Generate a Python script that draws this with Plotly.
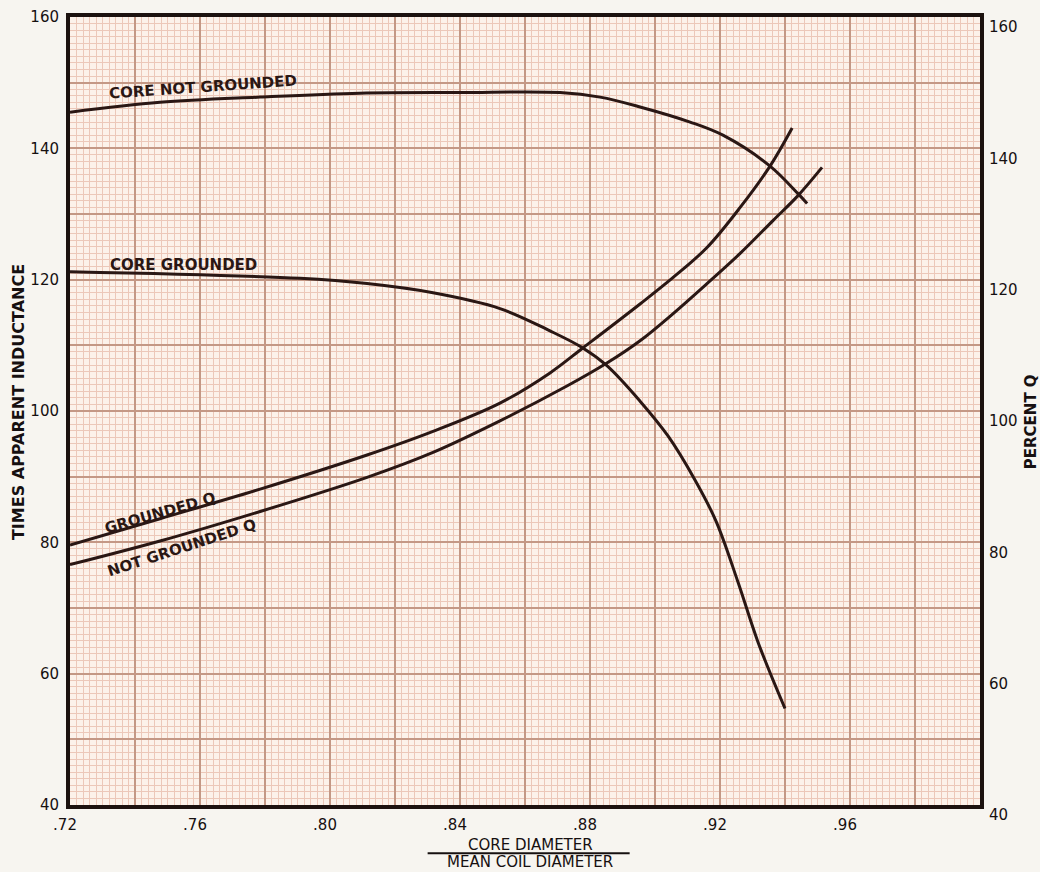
import plotly.graph_objects as go

# ---- data ----
ratio_core_not_grounded = [0.72, 0.7477, 0.7785, 0.8092, 0.84, 0.8708, 0.8831, 0.8954, 0.9108, 0.9209, 0.9354, 0.944, 0.9468]
ind_core_not_grounded = [145.5, 147.0, 147.8, 148.4, 148.5, 148.5, 147.8, 146.3, 144.0, 142.0, 137.3, 133.1, 131.6]

ratio_core_grounded = [0.72, 0.7908, 0.8114, 0.8317, 0.8523, 0.8677, 0.8778, 0.8852, 0.8954, 0.904, 0.9123, 0.9188, 0.9255, 0.9317, 0.94]
ind_core_grounded = [121.2, 120.2, 119.4, 118.0, 115.6, 112.2, 109.6, 106.9, 101.5, 96.2, 89.5, 83.2, 74.0, 64.8, 54.7]

ratio_q_grounded = [0.72, 0.7477, 0.7785, 0.8114, 0.8317, 0.8523, 0.8677, 0.8778, 0.8954, 0.9055, 0.916, 0.9262, 0.9354, 0.9422]
q_grounded = [79.6, 83.6, 88.1, 93.3, 96.9, 101.2, 105.8, 109.6, 116.3, 120.3, 124.9, 131.0, 137.3, 143.1]

ratio_q_not_grounded = [0.72, 0.7477, 0.7785, 0.8114, 0.8317, 0.8523, 0.8729, 0.8852, 0.8954, 0.9055, 0.916, 0.9262, 0.9363, 0.944, 0.9514]
q_not_grounded = [76.6, 80.2, 84.7, 89.9, 93.7, 98.5, 103.8, 107.3, 110.7, 114.8, 119.4, 124.0, 129.0, 132.8, 137.1]

x_tickvals = [0.72, 0.74, 0.76, 0.78, 0.80, 0.82, 0.84, 0.86, 0.88, 0.90, 0.92, 0.94, 0.96, 0.98, 1.00]
x_ticktext = [".72", "", ".76", "", ".80", "", ".84", "", ".88", "", ".92", "", ".96", "", ""]
y_tickvals = [40, 50, 60, 70, 80, 90, 100, 110, 120, 130, 140, 150, 160]
y_ticktext = ["40", "", "60", "", "80", "", "100", "", "120", "", "140", "", "160"]
y2_tickvals = [40, 60, 80, 100, 120, 140, 160]

INK = "#2a1714"
TXT = "#161010"
MINOR = "#ecc8b9"
MAJOR = "#c49885"

fig = go.Figure()
line = dict(color=INK, width=3, shape="spline", smoothing=1.0)
fig.add_trace(go.Scatter(x=ratio_core_not_grounded, y=ind_core_not_grounded, mode="lines", line=line,
                         name="CORE NOT GROUNDED", showlegend=False))
fig.add_trace(go.Scatter(x=ratio_core_grounded, y=ind_core_grounded, mode="lines", line=line,
                         name="CORE GROUNDED", showlegend=False))
fig.add_trace(go.Scatter(x=ratio_q_grounded, y=q_grounded, mode="lines", line=line, yaxis="y2",
                         name="GROUNDED Q", showlegend=False))
fig.add_trace(go.Scatter(x=ratio_q_not_grounded, y=q_not_grounded, mode="lines", line=line, yaxis="y2",
                         name="NOT GROUNDED Q", showlegend=False))

tickfont = dict(family="DejaVu Sans", size=15, color=TXT)
labfont = dict(family="DejaVu Sans", size=15, color=INK, weight="bold")

fig.update_layout(
    width=1040, height=872,
    margin=dict(l=70, r=60, t=17, b=67, autoexpand=False),
    paper_bgcolor="#f7f5f0",
    plot_bgcolor="#fcf2ea",
    xaxis=dict(range=[0.72, 1.00], tickmode="array", tickvals=x_tickvals, ticktext=x_ticktext,
               showgrid=True, gridcolor=MAJOR, gridwidth=1.5,
               minor=dict(tickmode="linear", tick0=0.72, dtick=0.002, showgrid=True, gridcolor=MINOR, gridwidth=1),
               showline=True, mirror=True, linecolor="#1c120f", linewidth=4,
               ticks="", tickfont=tickfont, ticklabelstandoff=3, ticklabelshift=-5, zeroline=False),
    yaxis=dict(range=[40, 160], tickmode="array", tickvals=y_tickvals, ticktext=y_ticktext,
               showgrid=True, gridcolor=MAJOR, gridwidth=1.5,
               minor=dict(tickmode="linear", tick0=40, dtick=1, showgrid=True, gridcolor=MINOR, gridwidth=1),
               showline=True, mirror=True, linecolor="#1c120f", linewidth=4,
               ticks="", tickfont=tickfont, ticklabelstandoff=4, zeroline=False),
    yaxis2=dict(range=[40, 160], overlaying="y", side="right", tickmode="array", tickvals=y2_tickvals,
                showgrid=False, zeroline=False, ticks="", tickfont=tickfont,
                ticklabelstandoff=8, ticklabelshift=10),
)

annotations = [
    dict(x=0.7609, y=149.3, text="CORE NOT GROUNDED", textangle=-4),
    dict(x=0.7548, y=122.3, text="CORE GROUNDED", textangle=0),
    dict(x=0.7477, y=84.4, text="GROUNDED Q", textangle=-16),
    dict(x=0.7542, y=79.2, text="NOT GROUNDED Q", textangle=-18),
]
for a in annotations:
    fig.add_annotation(xref="x", yref="y", showarrow=False, font=labfont,
                       xanchor="center", yanchor="middle", **a)

fig.add_annotation(xref="paper", yref="paper", x=-0.0571, y=0.5114, text="TIMES APPARENT INDUCTANCE",
                   textangle=-90, showarrow=False, xanchor="center", yanchor="middle",
                   font=dict(family="DejaVu Sans", size=16, color=TXT, weight="bold"))
fig.add_annotation(xref="paper", yref="paper", x=1.056, y=0.487, text="PERCENT Q",
                   textangle=-90, showarrow=False, xanchor="center", yanchor="middle",
                   font=dict(family="DejaVu Sans", size=15, color=TXT, weight="bold"))
fig.add_annotation(xref="paper", yref="paper", x=0.5055, y=-0.0503, text="CORE DIAMETER",
                   showarrow=False, xanchor="center", yanchor="middle",
                   font=dict(family="DejaVu Sans", size=15, color=TXT))
fig.add_annotation(xref="paper", yref="paper", x=0.5055, y=-0.0723, text="MEAN COIL DIAMETER",
                   showarrow=False, xanchor="center", yanchor="middle",
                   font=dict(family="DejaVu Sans", size=15, color=TXT))
fig.add_shape(type="line", xref="paper", yref="paper", x0=0.393, x1=0.615, y0=-0.0612, y1=-0.0612,
              line=dict(color=TXT, width=2))

fig.write_html("out.html", post_script="document.body.style.margin='0';",
               config={"displayModeBar": False})
